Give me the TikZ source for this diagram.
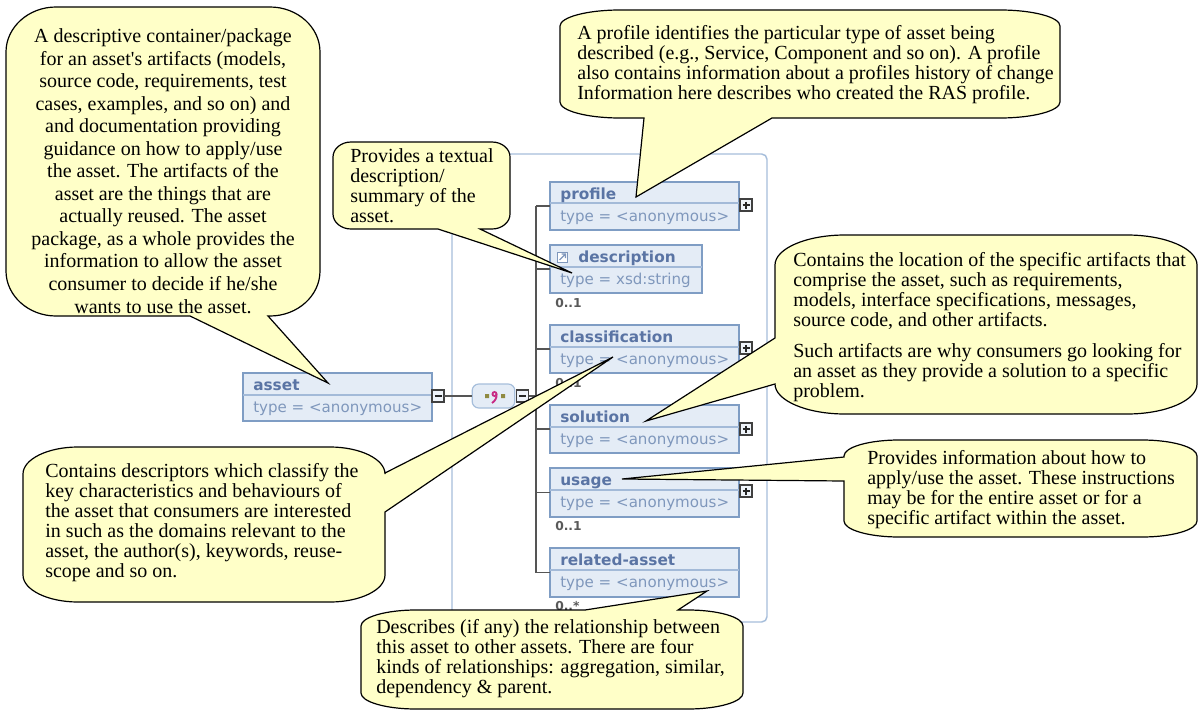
\documentclass[tikz,border=0pt]{standalone}
\usepackage{fontspec}
\setmainfont{Liberation Serif}
\newfontfamily\schemafont{DejaVu Sans}
\definecolor{bubblefill}{HTML}{FFFFC8}
\definecolor{boxfill}{HTML}{E4ECF6}
\definecolor{boxedge}{HTML}{7F9DC4}
\definecolor{boxdiv}{HTML}{A3BAD8}
\definecolor{titlecol}{HTML}{5A74A4}
\definecolor{typecol}{HTML}{7F97BC}
\definecolor{groupedge}{HTML}{A6BEDB}
\definecolor{conncol}{HTML}{555555}
\tikzset{
  bubble/.style={draw=black,fill=bubblefill,line width=0.9pt,line join=miter},
  btext/.style={font=\fontsize{15}{15}\selectfont,align=left,inner sep=0pt,anchor=base west},
  ctext/.style={font=\fontsize{15}{16.9}\selectfont,align=center,inner sep=0pt,anchor=base},
  elembox/.style={draw=boxedge,fill=boxfill,line width=2.2pt,inner sep=0pt,outer sep=0pt,anchor=north west},
  title/.style={font=\schemafont\bfseries\fontsize{11.5}{13}\selectfont,text=titlecol,inner sep=0pt,anchor=base west},
  typel/.style={font=\schemafont\fontsize{11.3}{13}\selectfont,text=typecol,inner sep=0pt,anchor=base west},
  occ/.style={font=\schemafont\bfseries\fontsize{9.2}{11}\selectfont,text=black!65,inner sep=0pt,anchor=base west},
  conn/.style={draw=conncol,line width=1.1pt},
  toggle/.style={draw=black!75,fill=boxfill!60,line width=1pt,minimum size=9pt,inner sep=0pt,outer sep=0pt},
}
% x1 y1 x2 y2 rx ry, then inserts: top, right, bottom, left
\newcommand\bubbleshape[6]{\def\xa{#1}\def\ya{#2}\def\xb{#3}\def\yb{#4}\def\rx{#5}\def\ry{#6}\bubblerest}
\newcommand\bubblerest[4]{%
  \draw[bubble] ({\xa+\rx},\ya) #1 -- ({\xb-\rx},\ya)
   .. controls ({\xb-.45*\rx},\ya) and (\xb,{\ya+.45*\ry}) .. (\xb,{\ya+\ry})
   #2 -- (\xb,{\yb-\ry})
   .. controls (\xb,{\yb-.45*\ry}) and ({\xb-.45*\rx},\yb) .. ({\xb-\rx},\yb)
   #3 -- ({\xa+\rx},\yb)
   .. controls ({\xa+.45*\rx},\yb) and (\xa,{\yb-.45*\ry}) .. (\xa,{\yb-\ry})
   #4 -- (\xa,{\ya+\ry})
   .. controls (\xa,{\ya+.45*\ry}) and ({\xa+.45*\rx},\ya) .. ({\xa+\rx},\ya) -- cycle;}
% name x1 y1 x2 y2 divider
\newcommand\elem[6]{%
  \node[elembox,minimum width={(#4-#2)*0.75pt},minimum height={(#5-#3)*0.75pt}] (#1) at (#2,#3) {};
  \draw[boxdiv,line width=1.1pt] (#2,#6) -- (#4,#6);}
\newcommand\plusbox[3]{%
  \node[toggle] (#1) at (#2,#3) {};
  \draw[black!85,line width=0.8pt] (#2-3.5,#3) -- (#2+3.5,#3) (#2,#3-3.5) -- (#2,#3+3.5);}
\newcommand\minusbox[3]{%
  \node[toggle] (#1) at (#2,#3) {};
  \draw[black!85,line width=0.8pt] (#2-3.5,#3) -- (#2+3.5,#3);}
\begin{document}
\begin{tikzpicture}[x=0.75pt,y=-0.75pt]
\useasboundingbox (0,0) rectangle (1198,710);
\fill[white] (0,0) rectangle (1198,710);
% group frame
\draw[groupedge,line width=1.1pt,rounded corners=4pt] (452,154) rectangle (767,622);
% connectors
\coordinate (trunktop) at (536,206);
\coordinate (trunkbot) at (536,573);
\elem{profile}{550}{182}{739}{230}{203}
\elem{description}{550}{245}{702}{293}{267}
\elem{classification}{550}{325}{739}{373}{347}
\elem{solution}{550}{405}{739}{453}{427}
\elem{usage}{550}{468}{739}{517}{490}
\elem{relasset}{550}{548}{739}{597}{570}
\elem{asset}{243}{373}{432}{421}{395}
\node[draw=groupedge,fill=boxfill,line width=0.9pt,rounded corners=5pt,minimum width=32pt,minimum height=18pt,inner sep=0pt] (seq) at (493.5,396) {};
\minusbox{assetminus}{438}{396}
\minusbox{seqminus}{522.5}{396}
\plusbox{profileplus}{746}{205}
\plusbox{classplus}{746}{348}
\plusbox{solplus}{746}{429}
\plusbox{usageplus}{746}{491}
\draw[conn] (assetminus) -- (seq);
\draw[conn] (seqminus) -- (seqminus -| trunktop);
\draw[conn] (trunktop) -- (trunkbot);
\foreach \n in {profile,description,classification,solution,usage,relasset}
  \draw[conn] (\n.west) -- (\n.west -| trunktop);
% sequence icon
\fill[olive!55!gray] (485,394) rectangle (489,398) (501,394) rectangle (505,398);
\draw[magenta!80!black,line width=1.4pt] (494.5,394) circle[radius=2];
\draw[magenta!80!black,line width=1.4pt] (496.5,394) .. controls (497,398) and (495,401) .. (492,403);
% description icon
\draw[typecol,fill=white,line width=0.7pt] (557.5,252) rectangle (567.5,262);
\draw[typecol,line width=0.9pt] (559.5,260) -- (565.5,254) (561.5,254) -- (565.5,254) -- (565.5,258);
% schema labels
\node[title] (tprofile) at (560,199) {profile};
\node[typel] (yprofile) at (560,221) {type = <anonymous>};
\node[title] (tdesc) at (578,262) {description};
\node[typel] (ydesc) at (560,284) {type = xsd:string};
\node[occ] (odesc) at (555,307) {0..1};
\node[title] (tclass) at (560,342) {classification};
\node[typel] (yclass) at (560,364) {type = <anonymous>};
\node[occ] (oclass) at (555,387) {0..1};
\node[title] (tsol) at (560,422) {solution};
\node[typel] (ysol) at (560,444) {type = <anonymous>};
\node[title] (tusage) at (560,485) {usage};
\node[typel] (yusage) at (560,507) {type = <anonymous>};
\node[occ] (ousage) at (555,530) {0..1};
\node[title] (trel) at (560,565) {related-asset};
\node[typel] (yrel) at (560,587) {type = <anonymous>};
\node[occ] (orel) at (555,610) {0..*};
\node[title] (tasset) at (253,390) {asset};
\node[typel] (yasset) at (253,412) {type = <anonymous>};
% callouts
\bubbleshape{6}{7}{320}{316}{50}{45}{}{}{-- (268,316) -- (328,383) -- (190,316)}{}
\bubbleshape{560}{10}{1060}{118}{60}{16}{}{}{-- (772,118) -- (636,197) -- (644,118)}{}
\bubbleshape{333}{142}{510}{229}{18}{15}{}{}{-- (480,229) -- (572,273) -- (438,229)}{}
\bubbleshape{23}{447}{385}{602}{55}{27}{}{-- (385,473) -- (613,357) -- (385,512)}{}{}
\bubbleshape{775}{235}{1197}{414}{70}{30}{}{}{}{-- (775,384) -- (646,421) -- (775,338)}
\bubbleshape{844}{440}{1197}{537}{55}{16}{}{}{}{-- (844,481) -- (622,479) -- (844,457)}
\bubbleshape{361}{610}{743}{709}{55}{16}{-- (585,610) -- (707,591) -- (678,610)}{}{}{}
% callout text
\node[ctext] (ta) at (163,313) {A descriptive container/package\\for an asset\textquotesingle s artifacts (models,\\source code, requirements, test\\cases, examples, and so on) and\\and documentation providing\\guidance on how to apply/use\\the asset. The artifacts of the\\asset are the things that are\\actually reused. The asset\\package, as a whole provides the\\information to allow the asset\\consumer to decide if he/she\\wants to use the asset.};
\node[btext] (tb) at (577,99) {A profile identifies the particular type of asset being\\described (e.g., Service, Component and so on). A profile\\also contains information about a profiles history of change\\Information here describes who created the RAS profile.};
\node[btext] (tc) at (350,222) {Provides a textual\\description/\\summary of the\\asset.};
\node[btext] (td) at (45,577) {Contains descriptors which classify the\\key characteristics and behaviours of\\the asset that consumers are interested\\in such as the domains relevant to the\\asset, the author(s), keywords, reuse-\\scope and so on.};
\node[btext] (te) at (793,326) {Contains the location of the specific artifacts that\\comprise the asset, such as requirements,\\models, interface specifications, messages,\\source code, and other artifacts.};
\node[btext] (te2) at (793,397) {Such artifacts are why consumers go looking for\\an asset as they provide a solution to a specific\\problem.};
\node[btext] (tf) at (867,524) {Provides information about how to\\apply/use the asset. These instructions\\may be for the entire asset or for a\\specific artifact within the asset.};
\node[btext] (tg) at (376,693) {Describes (if any) the relationship between\\this asset to other assets. There are four\\kinds of relationships: aggregation, similar,\\dependency \& parent.};
\end{tikzpicture}
\end{document}
